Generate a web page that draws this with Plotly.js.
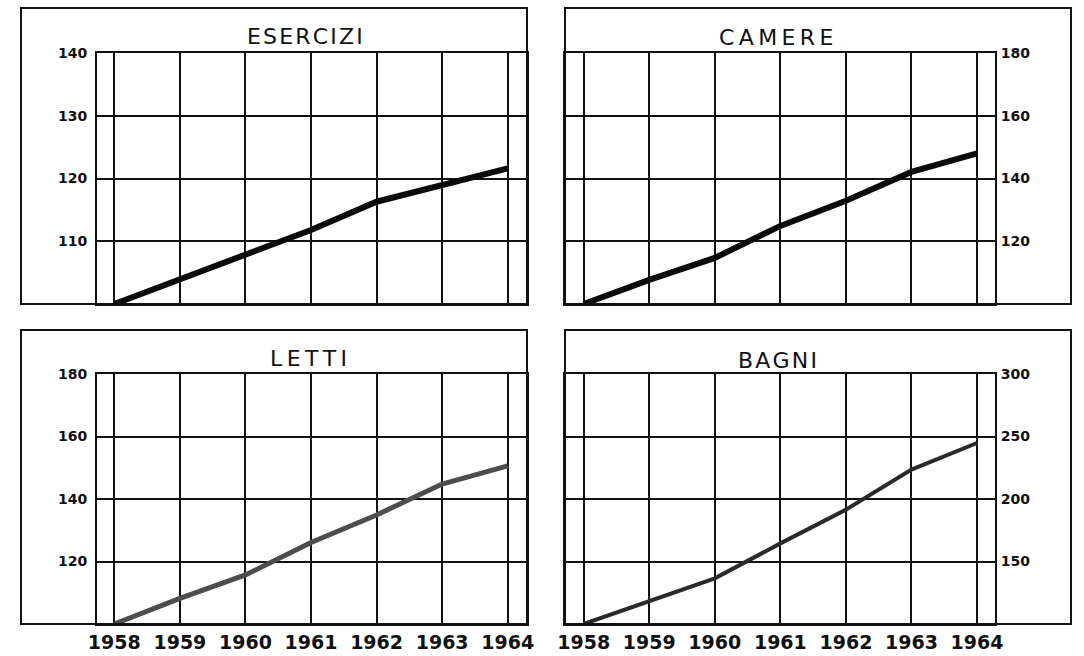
<!DOCTYPE html>
<html>
<head>
<meta charset="utf-8">
<script src="https://cdn.plot.ly/plotly-3.0.1.min.js"></script>
<style>
html,body{margin:0;padding:0;background:#fff;}
#chart{width:1084px;height:656px;}
</style>
</head>
<body>
<div id="chart"></div>
<script>
// ---- data ----
const years = [1958, 1959, 1960, 1961, 1962, 1963, 1964];
const esercizi = [100, 103.9, 108.0, 111.8, 116.3, 118.9, 121.6];
const camere   = [100, 107.7, 114.7, 124.9, 132.9, 142.1, 148.0];
const letti    = [100, 108.2, 115.7, 126.1, 134.9, 144.8, 150.6];
const bagni    = [100, 117.9, 136.5, 164.5, 191.5, 223.5, 244.8];

const titles = ['E\u200AS\u200AE\u200AR\u200AC\u200AI\u200AZ\u200AI',
                'C\u2009A\u2009M\u2009E\u2009R\u2009E',
                'L\u2009E\u2009T\u2009T\u2009I',
                'B\u200AA\u200AG\u200AN\u200AI'];
const ticksEsercizi = [110, 120, 130, 140];
const ticksCamere   = [120, 140, 160, 180];
const ticksLetti    = [120, 140, 160, 180];
const ticksBagni    = [150, 200, 250, 300];

// ---- layout helpers (pixels -> paper) ----
const W = 1084, H = 656;
const px = v => v / W;
const py = v => 1 - v / H;
const ink = '#111';
const FONT = 'DejaVu Sans, sans-serif';

function xa(domain, range, showLabels) {
  return {
    domain: domain, range: range, tickvals: years, ticktext: years.map(String),
    showgrid: true, gridcolor: ink, gridwidth: 2, zeroline: false,
    showline: true, mirror: true, linecolor: ink, linewidth: 2,
    ticks: '', showticklabels: showLabels, ticklabelstandoff: 0,
    tickfont: {family: FONT, size: 19, color: ink, weight: 'bold'},
    fixedrange: true
  };
}
function ya(domain, range, tv, side, anchor) {
  return {
    domain: domain, range: range, tickvals: tv, side: side, anchor: anchor,
    showgrid: true, gridcolor: ink, gridwidth: 2, zeroline: false,
    showline: true, mirror: true, linecolor: ink, linewidth: 2,
    ticks: '', ticklabelstandoff: side === 'left' ? 5 : 1,
    tickfont: {family: FONT, size: 14, color: ink, weight: 'bold'},
    fixedrange: true
  };
}

const dxL = [px(97), px(527)], dxR = [px(565), px(995)];
const dyT = [py(304), py(53)], dyB = [py(624), py(374)];

const traces = [
  {x: years, y: esercizi, xaxis: 'x',  yaxis: 'y',  mode: 'lines', line: {color: '#0a0a0a', width: 6}},
  {x: years, y: camere,   xaxis: 'x2', yaxis: 'y2', mode: 'lines', line: {color: '#0a0a0a', width: 6}},
  {x: years, y: letti,    xaxis: 'x3', yaxis: 'y3', mode: 'lines', line: {color: '#4d4d4d', width: 5}},
  {x: years, y: bagni,    xaxis: 'x4', yaxis: 'y4', mode: 'lines', line: {color: '#2a2a2a', width: 4}}
];

function box(x0, y0, x1, y1) {
  return {type: 'rect', xref: 'paper', yref: 'paper', x0: px(x0), x1: px(x1), y0: py(y1), y1: py(y0),
          line: {color: ink, width: 2}, layer: 'above'};
}
function title(t, x, y) {
  return {text: t, xref: 'paper', yref: 'paper', x: px(x), y: py(y), xanchor: 'center', yanchor: 'middle',
          showarrow: false, font: {family: FONT, size: 22, color: ink}};
}

const layout = {
  width: W, height: H, margin: {l: 0, r: 0, t: 0, b: 0},
  paper_bgcolor: '#fff', plot_bgcolor: '#fff', showlegend: false,
  xaxis:  xa(dxL, [1957.736, 1964.294], false),
  xaxis2: xa(dxR, [1957.715, 1964.274], false),
  xaxis3: xa(dxL, [1957.736, 1964.294], true),
  xaxis4: xa(dxR, [1957.715, 1964.274], true),
  yaxis:  ya(dyT, [100, 140], ticksEsercizi, 'left', 'x'),
  yaxis2: ya(dyT, [100, 180], ticksCamere, 'right', 'x2'),
  yaxis3: ya(dyB, [100, 180], ticksLetti, 'left', 'x3'),
  yaxis4: ya(dyB, [100, 300], ticksBagni, 'right', 'x4'),
  shapes: [box(21, 8, 527, 304), box(565, 8, 1071, 304), box(21, 330, 527, 624), box(565, 330, 1071, 624)],
  annotations: [title(titles[0], 305, 36), title(titles[1], 776, 37), title(titles[2], 308, 358), title(titles[3], 777, 360)]
};
layout.xaxis.anchor = 'y'; layout.xaxis2.anchor = 'y2'; layout.xaxis3.anchor = 'y3'; layout.xaxis4.anchor = 'y4';

Plotly.newPlot('chart', traces, layout, {staticPlot: true, displayModeBar: false});
</script>
</body>
</html>
